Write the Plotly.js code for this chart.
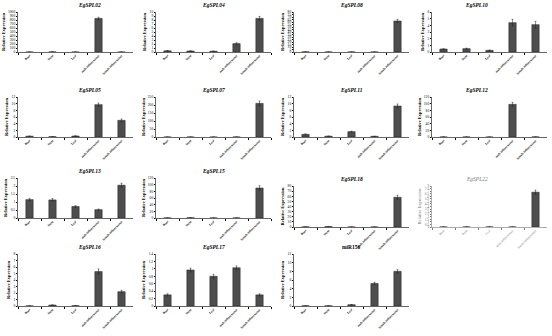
<!DOCTYPE html>
<html><head><meta charset="utf-8">
<script src="https://cdn.plot.ly/plotly-3.0.1.min.js"></script>
<style>html,body{margin:0;padding:0;background:#fff}#c{width:552px;height:336px}</style>
</head><body><div id="c"></div>
<script>
const categories = ['Root','Stem','Leaf','male inflorescence','female inflorescence'];
const genes = ['EgSPL02','EgSPL04','EgSPL08','EgSPL10','EgSPL05','EgSPL07','EgSPL11','EgSPL12','EgSPL13','EgSPL15','EgSPL18','EgSPL22','EgSPL16','EgSPL17','miR156'];

const EgSPL02 = [0.5, 3, 0.5, 840, 0.5];      const EgSPL02_err = [0, 1, 0, 30, 0];
const EgSPL04 = [0.3, 0.25, 0.2, 2.1, 8.4];   const EgSPL04_err = [0.05, 0.03, 0.03, 0.2, 0.5];
const EgSPL08 = [0.3, 0.1, 0.1, 0.1, 62];     const EgSPL08_err = [0.05, 0, 0, 0, 3];
const EgSPL10 = [0.45, 0.5, 0.25, 4.4, 4.1];  const EgSPL10_err = [0.05, 0.08, 0.04, 0.5, 0.5];
const EgSPL05 = [0.25, 0.1, 0.3, 9.7, 5.0];   const EgSPL05_err = [0.05, 0.02, 0.05, 0.5, 0.4];
const EgSPL07 = [0.2, 0.1, 0.1, 0.3, 210];    const EgSPL07_err = [0, 0, 0, 0, 15];
const EgSPL11 = [0.8, 0.25, 1.6, 0.2, 9.3];   const EgSPL11_err = [0.15, 0.05, 0.15, 0.03, 0.6];
const EgSPL12 = [0.2, 0.2, 0.1, 98, 0.3];     const EgSPL12_err = [0, 0, 0, 6, 0];
const EgSPL13 = [1.15, 1.13, 0.72, 0.52, 2.05]; const EgSPL13_err = [0.08, 0.08, 0.05, 0.04, 0.12];
const EgSPL15 = [0.3, 0.8, 0.2, 0.2, 90];     const EgSPL15_err = [0, 0.1, 0, 0, 7];
const EgSPL18 = [0.3, 0.8, 0.1, 0.1, 58];     const EgSPL18_err = [0, 0.1, 0, 0, 4];
const EgSPL22 = [0.02, 0.02, 0.02, 0.02, 6.8]; const EgSPL22_err = [0, 0, 0, 0, 0.4];
const EgSPL16 = [0.02, 0.15, 0.05, 5.3, 2.2]; const EgSPL16_err = [0, 0.02, 0.01, 0.4, 0.2];
const EgSPL17 = [0.3, 0.97, 0.8, 1.03, 0.3];  const EgSPL17_err = [0.03, 0.05, 0.05, 0.05, 0.03];
const miR156 = [0.05, 0.05, 0.3, 5.2, 8.0];   const miR156_err = [0, 0, 0.05, 0.3, 0.4];

const yMax = [1000, 10, 80, 6, 12, 250, 12, 120, 2.5, 120, 80, 8, 8, 1.4, 12];
const yStep = [100, 1, 5, 1, 2, 50, 2, 20, 0.5, 20, 10, 0.5, 1, 0.2, 2];

const values = [EgSPL02,EgSPL04,EgSPL08,EgSPL10,EgSPL05,EgSPL07,EgSPL11,EgSPL12,EgSPL13,EgSPL15,EgSPL18,EgSPL22,EgSPL16,EgSPL17,miR156];
const errors = [EgSPL02_err,EgSPL04_err,EgSPL08_err,EgSPL10_err,EgSPL05_err,EgSPL07_err,EgSPL11_err,EgSPL12_err,EgSPL13_err,EgSPL15_err,EgSPL18_err,EgSPL22_err,EgSPL16_err,EgSPL17_err,miR156_err];

const W = 552, H = 336;
const colX = [[18,133],[156,271],[294,409],[432,547]];
const rowY = [
  [[12,52],[12,52],[12,52],[12,52]],
  [[97,137],[97,137],[97,137],[97,137]],
  [[178,218],[178,218],[186,227],[186,227]],
  [[254,306],[254,306],[254,306],[254,306]]
];
const serif = 'Liberation Serif';
const traces = [], layout = {
  width: W, height: H, margin:{l:0,r:0,t:0,b:0}, showlegend:false,
  paper_bgcolor:'#fff', plot_bgcolor:'#fff', bargap:0.68,
  font:{family:serif, color:'#000', size:4},
  annotations:[]
};
genes.forEach((g,i)=>{
  const r = Math.floor(i/4), c = i%4;
  const n = i+1, xs = n===1?'':n, ax='x'+xs, ay='y'+xs;
  const gray = (g==='EgSPL22');
  const col = gray ? '#777' : '#000';
  traces.push({type:'bar', x:categories.map(t=> gray ? t : '<b>'+t+'</b>'), y:values[i], xaxis:ax, yaxis:ay,
    marker:{color:'#4d4d4d', line:{color:'#222', width:0.5}},
    error_y:{type:'data', array:errors[i], visible:true, color:'#222', thickness:0.5, width:1}});
  const xd = colX[c].map(v=>v/W);
  const yd = [1-rowY[r][c][1]/H, 1-rowY[r][c][0]/H];
  layout['xaxis'+xs] = {domain:xd, anchor:ay, type:'category', range:[-0.5,4.5],
    showline:true, linecolor:col, linewidth:0.6, ticks:'outside', ticklen:2, tickcolor:col,
    tickson:'boundaries', tickangle:-45, tickfont:{size:3.1, color:col, family:serif}, showgrid:false, zeroline:false, fixedrange:true};
  layout['yaxis'+xs] = {domain:yd, anchor:ax, range:[0,yMax[i]], dtick:yStep[i], tick0:0,
    showline:true, linecolor:col, linewidth:0.6, ticks:'outside', ticklen:1.5, tickcolor:col,
    tickfont:{size:3.6, color:col, family:serif}, showgrid:false, zeroline:false,
    title:{text: gray ? 'Relative Expression' : '<b>Relative Expression</b>', font:{size:4.5, color:col, family:serif}, standoff:2}};
  layout.annotations.push({xref:'paper', yref:'paper', x:(xd[0]+xd[1])/2, y:yd[1], yanchor:'bottom', yshift:2,
    showarrow:false, text: g==='miR156' ? '<b>miR156</b>' : (gray ? '<i>'+g+'</i>' : '<b><i>'+g+'</i></b>'),
    font:{size:5.5, color:col, family:serif}});
});
Plotly.newPlot('c', traces, layout, {staticPlot:true});
</script></body></html>
